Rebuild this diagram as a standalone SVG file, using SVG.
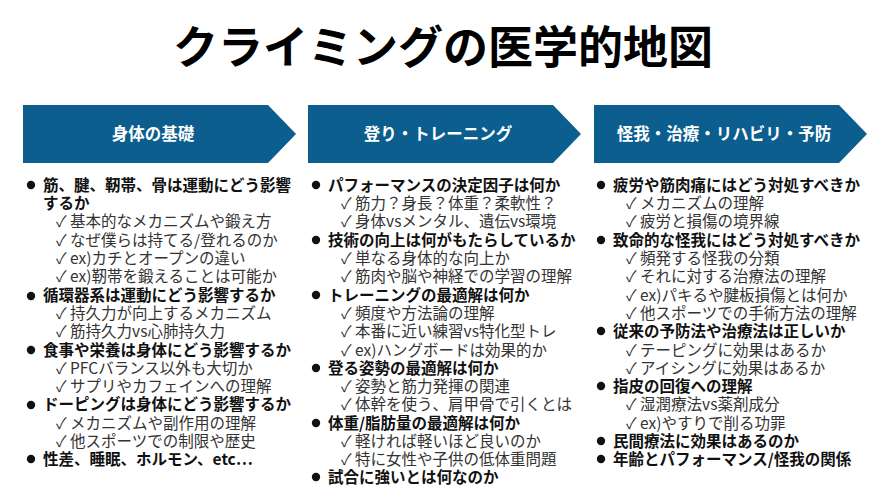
<svg xmlns="http://www.w3.org/2000/svg" width="890" height="500" viewBox="0 0 890 500">
<style>
text{font-family:"Noto Sans CJK JP","Noto Sans",sans-serif}
.t{font-size:45px;font-weight:700;fill:#000}
.h{font-size:16.5px;font-weight:700;fill:#fff}
.b{font-size:15.5px;font-weight:700;fill:#111}
.s{font-size:15.5px;fill:#333}
.hd{fill:#0b5e8e}
</style>
<defs>
<circle id="dot" r="4.2" fill="#111"/>
</defs>
<rect width="890" height="500" fill="#fff"/>
<text class="t" x="443" y="64" text-anchor="middle">クライミングの医学的地図</text>
<g id="col1">
<polygon class="hd" points="23,105 268,105 296,134 268,163 23,163"/>
<text class="h" x="153" y="140" text-anchor="middle">身体の基礎</text>
<use href="#dot" x="31" y="185"/><use href="#dot" x="31" y="296"/><use href="#dot" x="31" y="350"/><use href="#dot" x="31" y="405"/><use href="#dot" x="31" y="459"/>
<text class="b" x="43" y="191">筋、腱、靭帯、骨は運動にどう影響</text>
<text class="b" x="43" y="209">するか</text>
<text class="s" x="56" y="227">✓ 基本的なメカニズムや鍛え方</text>
<text class="s" x="56" y="246">✓ なぜ僕らは持てる/登れるのか</text>
<text class="s" x="56" y="264">✓ ex)カチとオープンの違い</text>
<text class="s" x="56" y="282">✓ ex)靭帯を鍛えることは可能か</text>
<text class="b" x="43" y="301">循環器系は運動にどう影響するか</text>
<text class="s" x="56" y="319">✓ 持久力が向上するメカニズム</text>
<text class="s" x="56" y="337">✓ 筋持久力vs心肺持久力</text>
<text class="b" x="43" y="356">食事や栄養は身体にどう影響するか</text>
<text class="s" x="56" y="374">✓ PFCバランス以外も大切か</text>
<text class="s" x="56" y="392">✓ サプリやカフェインへの理解</text>
<text class="b" x="43" y="410">ドーピングは身体にどう影響するか</text>
<text class="s" x="56" y="429">✓ メカニズムや副作用の理解</text>
<text class="s" x="56" y="447">✓ 他スポーツでの制限や歴史</text>
<text class="b" x="43" y="465">性差、睡眠、ホルモン、etc…</text>
</g>
<g id="col2">
<polygon class="hd" points="308,105 553,105 581,134 553,163 308,163"/>
<text class="h" x="438" y="140" text-anchor="middle">登り・トレーニング</text>
<use href="#dot" x="316" y="185"/><use href="#dot" x="316" y="240"/><use href="#dot" x="316" y="295"/><use href="#dot" x="316" y="368"/><use href="#dot" x="316" y="423"/><use href="#dot" x="316" y="477"/>
<text class="b" x="328" y="191">パフォーマンスの決定因子は何か</text>
<text class="s" x="341" y="209">✓ 筋力？身長？体重？柔軟性？</text>
<text class="s" x="341" y="227">✓ 身体vsメンタル、遺伝vs環境</text>
<text class="b" x="328" y="246">技術の向上は何がもたらしているか</text>
<text class="s" x="341" y="264">✓ 単なる身体的な向上か</text>
<text class="s" x="341" y="282">✓ 筋肉や脳や神経での学習の理解</text>
<text class="b" x="328" y="301">トレーニングの最適解は何か</text>
<text class="s" x="341" y="319">✓ 頻度や方法論の理解</text>
<text class="s" x="341" y="337">✓ 本番に近い練習vs特化型トレ</text>
<text class="s" x="341" y="356">✓ ex)ハングボードは効果的か</text>
<text class="b" x="328" y="374">登る姿勢の最適解は何か</text>
<text class="s" x="341" y="392">✓ 姿勢と筋力発揮の関連</text>
<text class="s" x="341" y="410">✓ 体幹を使う、肩甲骨で引くとは</text>
<text class="b" x="328" y="429">体重/脂肪量の最適解は何か</text>
<text class="s" x="341" y="447">✓ 軽ければ軽いほど良いのか</text>
<text class="s" x="341" y="465">✓ 特に女性や子供の低体重問題</text>
<text class="b" x="328" y="483">試合に強いとは何なのか</text>
</g>
<g id="col3">
<polygon class="hd" points="594,105 839,105 867,134 839,163 594,163"/>
<text class="h" x="724" y="140" text-anchor="middle">怪我・治療・リハビリ・予防</text>
<use href="#dot" x="601" y="185"/><use href="#dot" x="601" y="240"/><use href="#dot" x="601" y="331"/><use href="#dot" x="601" y="386"/><use href="#dot" x="601" y="441"/><use href="#dot" x="601" y="459"/>
<text class="b" x="613" y="191">疲労や筋肉痛にはどう対処すべきか</text>
<text class="s" x="626" y="209">✓ メカニズムの理解</text>
<text class="s" x="626" y="227">✓ 疲労と損傷の境界線</text>
<text class="b" x="613" y="246">致命的な怪我にはどう対処すべきか</text>
<text class="s" x="626" y="264">✓ 頻発する怪我の分類</text>
<text class="s" x="626" y="282">✓ それに対する治療法の理解</text>
<text class="s" x="626" y="301">✓ ex)パキるや腱板損傷とは何か</text>
<text class="s" x="626" y="319">✓ 他スポーツでの手術方法の理解</text>
<text class="b" x="613" y="337">従来の予防法や治療法は正しいか</text>
<text class="s" x="626" y="356">✓ テーピングに効果はあるか</text>
<text class="s" x="626" y="374">✓ アイシングに効果はあるか</text>
<text class="b" x="613" y="392">指皮の回復への理解</text>
<text class="s" x="626" y="410">✓ 湿潤療法vs薬剤成分</text>
<text class="s" x="626" y="429">✓ ex)やすりで削る功罪</text>
<text class="b" x="613" y="447">民間療法に効果はあるのか</text>
<text class="b" x="613" y="465">年齢とパフォーマンス/怪我の関係</text>
</g>
</svg>
